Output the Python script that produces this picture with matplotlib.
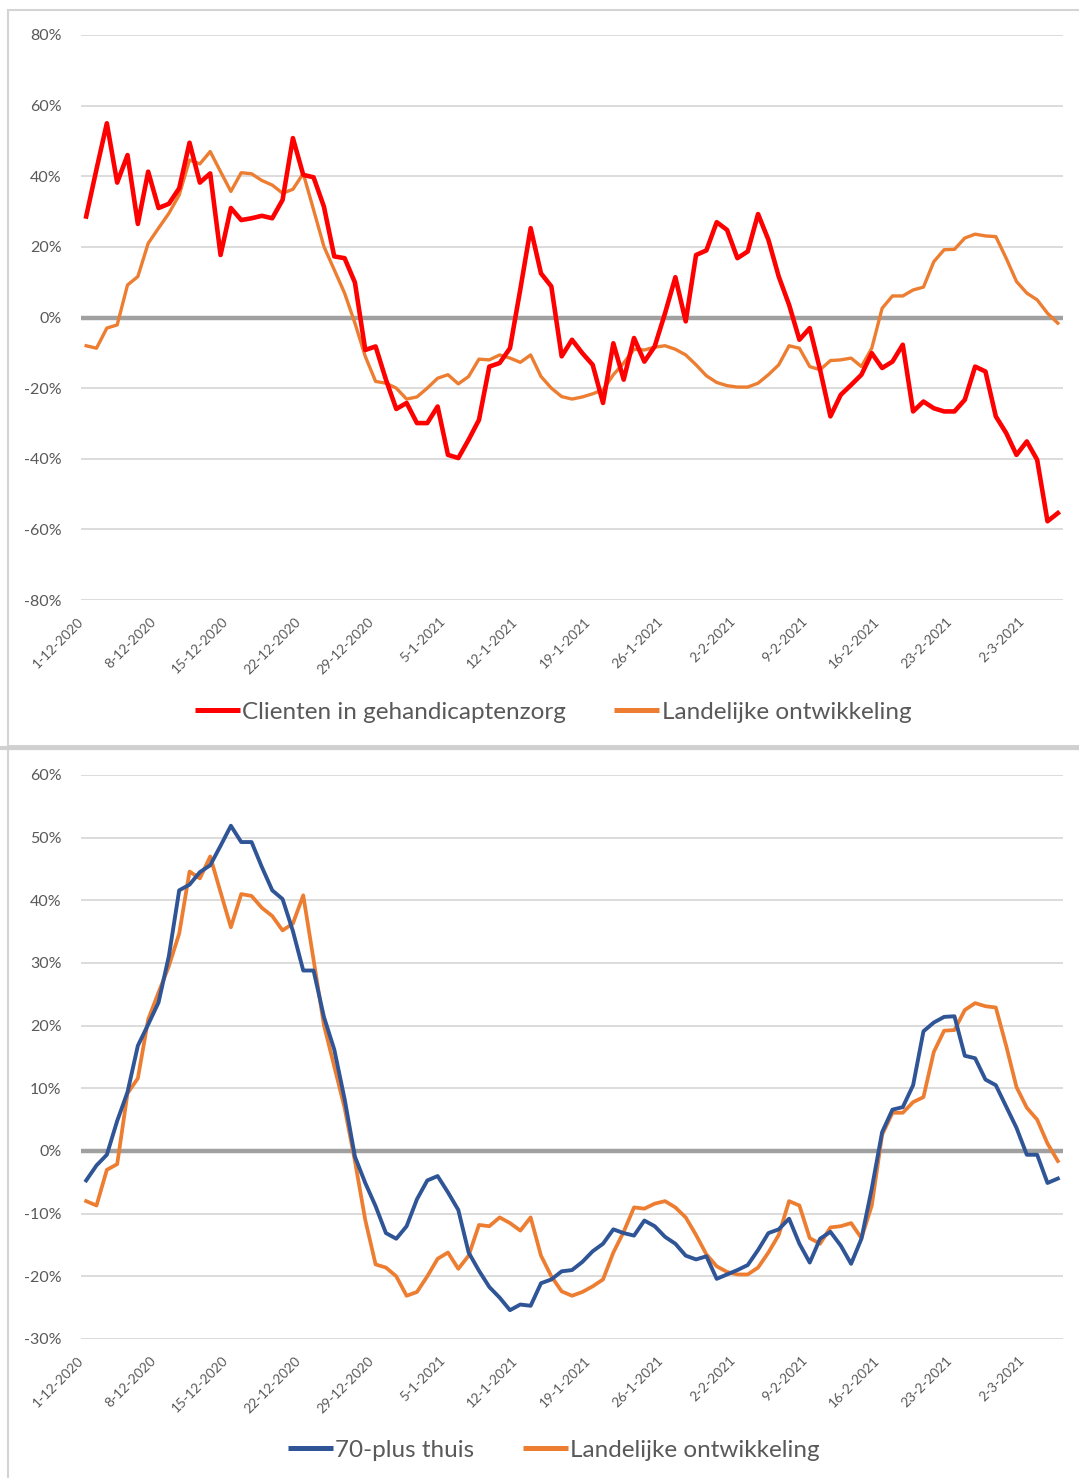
import matplotlib
matplotlib.use("Agg")
import matplotlib.pyplot as plt
from matplotlib.lines import Line2D
from matplotlib.patches import Rectangle
import numpy as np

plt.rcParams['font.family'] = ['Lato', 'DejaVu Sans']

# ---- data (daily, 1-12-2020 .. 5-3-2021) ----
tick_labels = ["1-12-2020", "8-12-2020", "15-12-2020", "22-12-2020", "29-12-2020",
               "5-1-2021", "12-1-2021", "19-1-2021", "26-1-2021", "2-2-2021",
               "9-2-2021", "16-2-2021", "23-2-2021", "2-3-2021"]

gehandicaptenzorg = [28.6, 42, 55, 38.2, 46, 26.5, 41.3, 31, 32.2, 36.6,
                     49.5, 38.2, 40.8, 17.7, 31, 27.6, 28.1, 28.8, 28.1, 33.3,
                     50.8, 40.4, 39.7, 31.4, 17.3, 16.8, 9.9, -9.2, -8.2, -17.6,
                     -25.9, -24.2, -29.9, -29.9, -25.2, -38.9, -39.8, -34.6, -29, -13.9,
                     -12.9, -8.7, 8, 25.3, 12.5, 8.8, -11, -6.3, -10.1, -13.4,
                     -24.2, -7.3, -17.6, -5.8, -12.5, -8.2, 1.2, 11.4, -1.1, 17.7,
                     19, 27, 24.8, 16.8, 18.7, 29.3, 22, 11.6, 3.6, -6.3,
                     -3, -14.8, -28, -21.9, -19.1, -16.2, -10.1, -14.3, -12.5, -7.7,
                     -26.6, -23.8, -25.7, -26.6, -26.6, -23.3, -13.9, -15.3, -28, -32.7,
                     -38.9, -35.1, -40.3, -57.7, -55.4]

landelijk = [-8, -8.7, -3, -2.1, 9.2, 11.6, 21, 25.3, 29.5, 34.7,
             44.6, 43.5, 47, 41.3, 35.7, 41, 40.7, 38.8, 37.5, 35.2,
             36.3, 40.8, 30.5, 20.1, 13.5, 6.9, -1.6, -11, -18.1, -18.6,
             -20, -23.1, -22.5, -20, -17.2, -16.2, -18.8, -16.7, -11.8, -12,
             -10.6, -11.5, -12.7, -10.6, -16.7, -20, -22.4, -23.1, -22.5, -21.6,
             -20.5, -16.2, -12.9, -9, -9.2, -8.4, -8, -9, -10.6, -13.4,
             -16.5, -18.4, -19.3, -19.7, -19.7, -18.6, -16.2, -13.4, -8, -8.7,
             -13.9, -14.8, -12.2, -12, -11.5, -13.9, -8.7, 2.6, 6.1, 6.1,
             7.8, 8.6, 15.8, 19.2, 19.3, 22.5, 23.6, 23.1, 22.9, 16.8,
             10.2, 6.9, 5, 1.2, -1.6]

zeventig_plus = [-4.7, -2.3, -0.6, 4.8, 9.4, 16.8, 20.2, 23.7, 31.1, 41.6,
                 42.5, 44.5, 45.6, 48.7, 51.9, 49.3, 49.3, 45.3, 41.6, 40.2,
                 35.1, 28.8, 28.8, 21.4, 16.2, 8.3, -0.9, -5.1, -8.8, -13.1,
                 -14, -12, -7.7, -4.7, -4, -6.6, -9.4, -16.2, -19.1, -21.7,
                 -23.4, -25.4, -24.5, -24.7, -21.1, -20.5, -19.2, -19, -17.7, -16,
                 -14.8, -12.5, -13.1, -13.5, -11.1, -12, -13.7, -14.8, -16.7, -17.3,
                 -16.8, -20.4, -19.7, -19, -18.2, -15.8, -13.1, -12.5, -10.8, -14.8,
                 -17.8, -14, -12.9, -15.1, -18, -14, -6, 3, 6.6, 7,
                 10.5, 19.1, 20.5, 21.4, 21.5, 15.2, 14.8, 11.4, 10.5, 7.1,
                 3.7, -0.6, -0.6, -5.1, -4.4]

top_yticks = [-80, -60, -40, -20, 0, 20, 40, 60, 80]
bot_yticks = [-30, -20, -10, 0, 10, 20, 30, 40, 50, 60]

RED = "#ff0000"
ORANGE = "#ed7d31"
BLUE = "#2f5597"
GRID = "#d9d9d9"
TXT = "#595959"

W, H = 1079, 1478
fig = plt.figure(figsize=(W / 100, H / 100), dpi=100)
fig.patch.set_facecolor("white")

def fx(px):
    return px / W

def fy(py):
    return 1 - py / H

# panel frames
fig.patches.append(Rectangle((fx(8), fy(746)), fx(1090) - fx(8), fy(10) - fy(746),
                             transform=fig.transFigure, fill=False,
                             edgecolor="#d4d4d4", lw=1.5, zorder=0))
fig.patches.append(Rectangle((fx(8), fy(1490)), fx(1090) - fx(8), fy(749) - fy(1490),
                             transform=fig.transFigure, fill=False,
                             edgecolor="#d4d4d4", lw=1.5, zorder=0))
fig.add_artist(Line2D([0, 1], [fy(747.5), fy(747.5)], transform=fig.transFigure,
                      color="#d0d0d0", lw=3))

def style_axes(ax, yticks):
    days = np.arange(len(landelijk))
    ax.set_xlim(-0.5, len(days) - 0.5)
    ax.set_ylim(yticks[0], yticks[-1])
    ax.set_yticks(yticks)
    ax.set_yticklabels([f"{v}%" for v in yticks])
    ax.set_xticks(np.arange(0, len(days), 7))
    ax.set_xticklabels(tick_labels, rotation=45, ha="right", va="top")
    for lab in ax.get_xticklabels():
        lab.set_fontsize(9.8)
        lab.set_color(TXT)
    for lab in ax.get_yticklabels():
        lab.set_fontsize(11.5)
        lab.set_color(TXT)
    ax.tick_params(axis="y", length=0, pad=14)
    ax.tick_params(axis="x", length=0, pad=11)
    for s in ax.spines.values():
        s.set_visible(False)
    for v in yticks:
        if v != 0:
            ax.axhline(v, color=GRID, lw=1.3, zorder=0.5)
    ax.axhline(0, color="#a0a0a0", lw=3.2, zorder=1)
    return days

LEG = dict(loc="center", ncol=2, frameon=False, fontsize=17.5, handlelength=1.85,
           handletextpad=0.1, columnspacing=2.0, labelcolor=TXT)

def proxy(color, label):
    return Line2D([], [], color=color, lw=3.6, solid_capstyle="butt", label=label)

# ---- top panel ----
ax1 = fig.add_axes([fx(81), fy(600), fx(1063) - fx(81), fy(35) - fy(600)])
days = style_axes(ax1, top_yticks)
ax1.plot(days, gehandicaptenzorg, color=RED, lw=3.3, zorder=3, solid_joinstyle="round")
ax1.plot(days, landelijk, color=ORANGE, lw=2.4, zorder=2, solid_joinstyle="round")
fig.legend(handles=[proxy(RED, "Clienten in gehandicaptenzorg"),
                    proxy(ORANGE, "Landelijke ontwikkeling")],
           bbox_to_anchor=(fx(553), fy(712)), **LEG)

# ---- bottom panel ----
ax2 = fig.add_axes([fx(81), fy(1339), fx(1063) - fx(81), fy(775) - fy(1339)])
days = style_axes(ax2, bot_yticks)
ax2.plot(days, zeventig_plus, color=BLUE, lw=2.8, zorder=3, solid_joinstyle="round")
ax2.plot(days, landelijk, color=ORANGE, lw=2.7, zorder=2, solid_joinstyle="round")
fig.legend(handles=[proxy(BLUE, "70-plus thuis"),
                    proxy(ORANGE, "Landelijke ontwikkeling")],
           bbox_to_anchor=(fx(554), fy(1450)), **LEG)

fig.savefig("out.png", dpi=100, facecolor="white")
